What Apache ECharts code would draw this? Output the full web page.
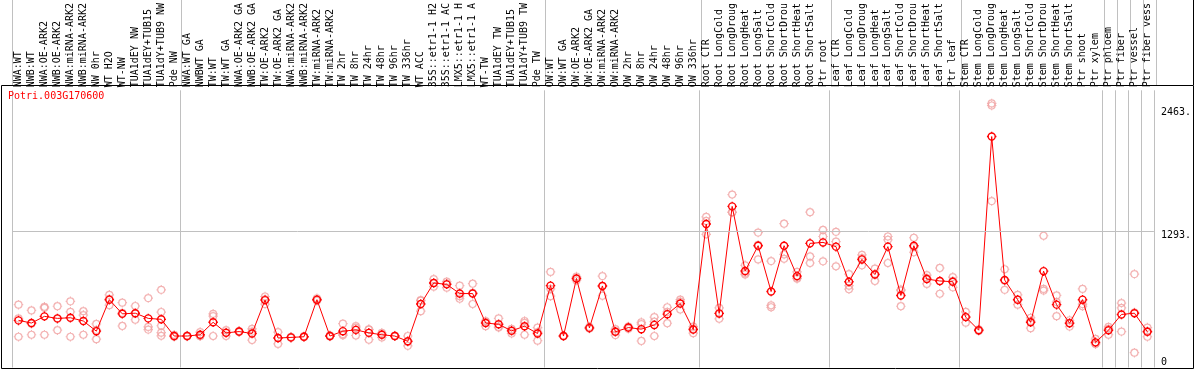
<!DOCTYPE html>
<html>
<head>
<meta charset="utf-8">
<script src="https://cdn.jsdelivr.net/npm/echarts@6/dist/echarts.min.js"></script>
<style>
html,body{margin:0;padding:0;background:#fff;}
#chart{width:1194px;height:370px;}
</style>
</head>
<body>
<div id="chart"></div>
<script>
const title = 'Potri.003G170600';
const categories = [
  'NWA:WT','NWB:WT','NWA:OE-ARK2','NWB:OE-ARK2','NWA:miRNA-ARK2','NWB:miRNA-ARK2','NW 0hr','WT H2O','WT-NW','TUA1dEY NW','TUA1dEY+TUB15','TUA1dY+TUB9 NW','Pde NW',
  'NWA:WT GA','NWBWT GA','TW:WT','TW:WT GA','NWA:OE-ARK2 GA','NWB:OE-ARK2 GA','TW:OE-ARK2','TW:OE-ARK2 GA','NWA:miRNA-ARK2','NWB:miRNA-ARK2','TW:miRNA-ARK2','TW:miRNA-ARK2','TW 2hr','TW 8hr','TW 24hr','TW 48hr','TW 96hr','TW 336hr','WT ACC','35S::etr1-1 H2','35S::etr1-1 AC','LMX5::etr1-1 H','LMX5::etr1-1 A','WT-TW','TUA1dEY TW','TUA1dEY+TUB15','TUA1dY+TUB9 TW','Pde TW',
  'OW:WT','OW:WT GA','OW:OE-ARK2','OW:OE-ARK2 GA','OW:miRNA-ARK2','OW:miRNA-ARK2','OW 2hr','OW 8hr','OW 24hr','OW 48hr','OW 96hr','OW 336hr',
  'Root CTR','Root LongCold','Root LongDroug','Root LongHeat','Root LongSalt','Root ShortCold','Root ShortDrou','Root ShortHeat','Root ShortSalt','Ptr root',
  'Leaf CTR','Leaf LongCold','Leaf LongDroug','Leaf LongHeat','Leaf LongSalt','Leaf ShortCold','Leaf ShortDrou','Leaf ShortHeat','Leaf ShortSalt','Ptr leaf',
  'Stem CTR','Stem LongCold','Stem LongDroug','Stem LongHeat','Stem LongSalt','Stem ShortCold','Stem ShortDrou','Stem ShortHeat','Stem ShortSalt','Ptr shoot','Ptr xylem',
  'Ptr phloem','Ptr fiber','Ptr vessel','Ptr fiber vess'
];
// index of first category in each group (separator lines drawn at their left edge)
const groupStarts = [0, 13, 41, 53, 63, 73, 84, 85, 86, 87];

const means = [
  446,421,484,465,471,440,344,642,508,514,465,456,298,
  298,310,428,328,340,322,638,279,285,291,642,298,344,356,328,310,298,248,601,800,787,700,700,421,409,347,391,322,
  775,298,843,375,772,338,378,363,403,505,605,359,
  1358,512,1525,914,1153,719,1153,865,1175,1184,
  1144,812,1023,880,1144,682,1153,837,819,812,
  477,353,2186,828,642,428,912,595,419,642,238,
  353,502,514,338
];

const replicates = [
  [595,465,291],[540,310,415],[575,310,565],[580,353,462],[626,527,291],[533,496,310],[412,355,268],[688,650,590],[614,393,517],[582,452,510],[657,384,359],[735,525,395,330,300],[310,295,290],
  [302,298,294],[335,300,296],[508,486,298],[353,298,333],[345,335,340],[366,260,340],[672,645,600],[335,223,280],[290,282,284],[296,288,290],[655,640,632],[305,294,295],[415,316,305],[391,303,375],[359,263,362],[328,285,317],[302,296,296],[298,205,242],[633,533,637],[837,800,765],[812,756,793],[775,651,675],[793,601,706],[440,391,432],[465,378,385],[366,322,353],[440,310,423],[378,254,334],
  [905,675,745],[302,295,297],[861,824,844],[385,368,372],[865,679,772],[363,307,344],[388,366,380],[428,251,410],[477,298,434],[570,419,526],[642,549,624],[387,325,365],
  [1426,1261,1387],[564,461,511],[1637,1470,1468],[967,880,895],[1277,1023,1160],[1007,589,570],[1361,1029,1070],[905,849,841],[1470,1051,989],[1302,1240,1005],
  [1284,1191,958],[884,775,741],[1066,967,1036],[936,819,885],[1240,1209,989],[728,580,738],[1228,1091,1140],[874,791,846],[942,698,817],[856,759,821],
  [527,424,480],[360,345,355],[2500,2480,1575],[930,735,820],[688,595,643],[471,372,440],[1247,744,728],[682,486,620],[447,387,423],[744,580,600],[270,223,225],
  [384,310,365],[610,340,564],[884,140,520],[378,291,345]
];

const yMax = 2624;
const yTickValues = [1293, 2463];
const yTickLabels = ['1293.', '2463.'];
const yZeroValue = [0];
const yZeroLabel = ['0'];
const gridLineValue = 1293;

const FONT = 'DejaVu Sans Mono';
const GRAY = '#c0c0c0';
// ring with four small ticks, like the reference markers
const MARKER = 'path://M5,1.3A3.7,3.7 0 1 1 5,8.7A3.7,3.7 0 1 1 5,1.3ZM5,0L5,1.3M5,8.7L5,10M0,5L1.3,5M8.7,5L10,5';

const repData = [];
replicates.forEach((arr, i) => arr.forEach(v => repData.push([i, v])));

const sepInterval = (idx) => groupStarts.indexOf(idx) >= 0;

const chart = echarts.init(document.getElementById('chart'), null, {renderer: 'canvas'});
chart.setOption({
  animation: false,
  backgroundColor: '#fff',
  title: {
    text: title, left: 8, top: 91, padding: 0,
    textStyle: {color: '#ff0000', fontSize: 10, fontFamily: FONT, fontWeight: 'normal'}
  },
  grid: [
    {left: 12, right: 38, top: 85, bottom: 2.5},
    {left: 12, right: 38, top: 0, height: 85}
  ],
  xAxis: [
    {
      type: 'category', gridIndex: 0, position: 'top', data: categories, boundaryGap: true,
      axisLine: {show: false}, axisTick: {show: false},
      axisLabel: {interval: 0, rotate: 90, margin: 3, fontSize: 10, fontFamily: FONT, color: '#000'},
      splitLine: {show: true, interval: sepInterval, lineStyle: {color: GRAY, width: 1}}
    },
    {
      type: 'category', gridIndex: 1, data: categories, boundaryGap: true,
      axisLine: {show: false}, axisTick: {show: false}, axisLabel: {show: false},
      splitLine: {show: true, interval: sepInterval, lineStyle: {color: GRAY, width: 1}}
    }
  ],
  yAxis: [
    {
      type: 'value', gridIndex: 0, min: 0, max: yMax, position: 'right',
      axisLine: {show: false}, axisTick: {show: false}, splitLine: {show: false},
      axisLabel: {
        customValues: yTickValues, margin: 7, align: 'left', verticalAlign: 'top',
        fontSize: 10, fontFamily: FONT, color: '#000',
        formatter: v => yTickLabels[yTickValues.indexOf(v)]
      }
    },
    {
      type: 'value', gridIndex: 0, min: 0, max: yMax, position: 'right',
      axisLine: {show: false}, axisTick: {show: false}, splitLine: {show: false},
      axisLabel: {
        customValues: yZeroValue, margin: 7, align: 'left', verticalAlign: 'bottom',
        fontSize: 10, fontFamily: FONT, color: '#000',
        formatter: v => yZeroLabel[yZeroValue.indexOf(v)]
      }
    },
    {type: 'value', gridIndex: 1, show: false}
  ],
  series: [
    {
      type: 'scatter', xAxisIndex: 0, yAxisIndex: 0, data: repData,
      symbol: MARKER, symbolSize: 9.5, z: 2,
      itemStyle: {color: 'rgba(0,0,0,0)', borderColor: '#f0a0a0', borderWidth: 1.2},
      silent: true
    },
    {
      type: 'line', xAxisIndex: 0, yAxisIndex: 0, data: means, z: 3,
      showAllSymbol: true, symbol: MARKER, symbolSize: 9.5,
      lineStyle: {color: '#ff0000', width: 1},
      itemStyle: {color: 'rgba(0,0,0,0)', borderColor: '#ff0000', borderWidth: 1.4},
      silent: true,
      markLine: {
        silent: true, symbol: ['none', 'none'], label: {show: false},
        lineStyle: {color: GRAY, type: 'solid', width: 1},
        data: [{yAxis: gridLineValue}]
      }
    }
  ],
  graphic: [
    {type: 'rect', shape: {x: 1.5, y: 85.5, width: 1192, height: 283}, style: {fill: null, stroke: '#000', lineWidth: 1}, silent: true, z: 10},
    {type: 'line', shape: {x1: 1193.5, y1: 0, x2: 1193.5, y2: 85}, style: {stroke: '#000', lineWidth: 1}, silent: true, z: 10}
  ]
});
</script>
</body>
</html>
